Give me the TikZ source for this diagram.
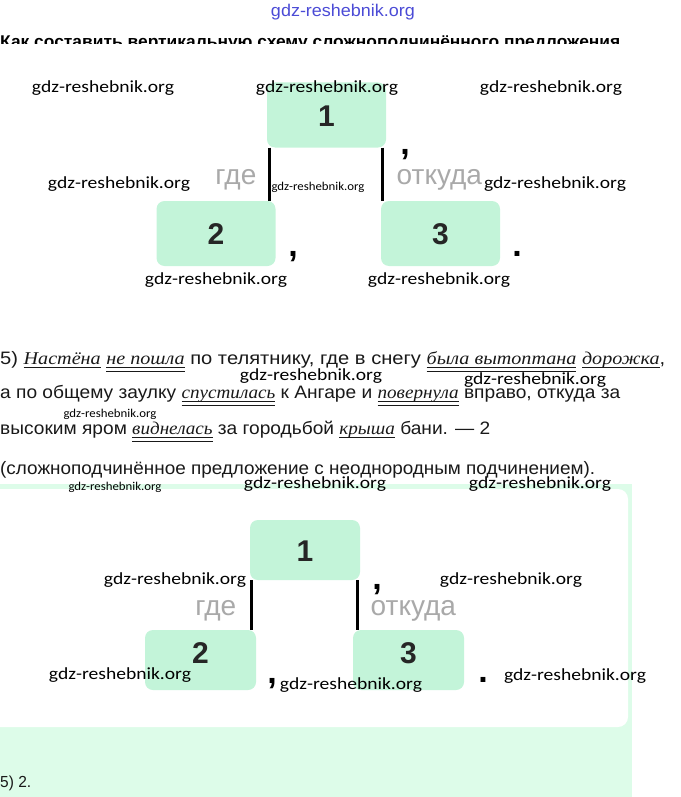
\documentclass[tikz,border=0pt]{standalone}
\usepackage{fontspec}
\usepackage{graphicx}
\setmainfont{Liberation Sans}
\newfontfamily\wmfont{Carlito}
\newfontfamily\serfont{Liberation Serif}
\definecolor{boxgreen}{HTML}{C3F4D9}
\definecolor{pagegreen}{HTML}{DDFCE9}
\definecolor{conjgray}{HTML}{A9A9A9}
\definecolor{wmblue}{HTML}{4B4BD6}
\newcommand\fitw[2]{\resizebox{#1}{\height}{#2}}
\newcommand\podl[1]{{\serfont\itshape\setbox0\hbox{#1}\rlap{\rule[-3.5pt]{\wd0}{0.7pt}}\box0}}
\newcommand\skaz[1]{{\serfont\itshape\setbox0\hbox{#1}\rlap{\rule[-3.5pt]{\wd0}{0.7pt}}\rlap{\rule[-7.5pt]{\wd0}{0.7pt}}\box0}}
\newcommand\gdz{gdz-reshebnik.org}
\begin{document}
\begin{tikzpicture}[x=1pt,y=-1pt]
	\tikzset{
		numbox/.style={fill=boxgreen,rounded corners=8pt,inner sep=0pt,minimum width=119pt,minimum height=65pt,
			text height=22pt,text depth=0pt,text=black!85,font=\fontsize{30}{30}\selectfont\bfseries},
		conj/.style={inner sep=0pt,yshift=-6pt,text=conjgray,font=\fontsize{28}{28}\selectfont},
		punct/.style={anchor=base,inner sep=0pt,font=\fontsize{34}{34}\selectfont\bfseries},
		link/.style={line width=3pt},
		para/.style={anchor=base west,inner sep=0pt,text=black!90,font=\fontsize{18}{20}\selectfont},
		wm/.style={inner sep=0pt,font=\wmfont}
	}
	\useasboundingbox(0,0)rectangle(680,797);
	\fill[pagegreen](0,484)rectangle(632,797);
	\fill[white,rounded corners=10pt](-12,489)rectangle(628,727);
	\begin{scope}
		\clip(0,0)rectangle(680,44);
		\node(title)[anchor=base west,inner sep=0pt,font=\fontsize{17}{17}\selectfont\bfseries]at(0,48)
			{\fitw{620pt}{Как составить вертикальную схему сложноподчинённого предложения}};
	\end{scope}
	\node(site)[inner sep=0pt,text=wmblue,font=\fontsize{17}{17}\selectfont]at(343,12){\fitw{144pt}{\gdz}};
	\node(a1)[numbox]at(326.5,115){1};
	\node(a2)[numbox]at(216,233.5){2};
	\node(a3)[numbox]at(440.5,233.5){3};
	\draw[link]([xshift=3pt]a1.south west)--([xshift=3pt]a1.south west|-a2.north)
		node[conj,midway,left,xshift=-12pt]{где};
	\draw[link]([xshift=-4pt]a1.south east)--([xshift=-4pt]a1.south east|-a3.north)
		node[conj,midway,right,xshift=13pt]{откуда};
	\node(c1)[punct]at(405,154){,};
	\node(c2)[punct]at(293,256){,};
	\node(c3)[punct]at(517,256){.};
	\node(p1)[para]at(0,364){\fitw{665pt}{5) \podl{Настёна} \skaz{не пошла} по телятнику, где в снегу \skaz{была вытоптана} \podl{дорожка},}};
	\node(p2)[para]at(0,398){\fitw{620pt}{а по общему заулку \skaz{спустилась} к Ангаре и \skaz{повернула} вправо, откуда за}};
	\node(p3)[para]at(0,434){\fitw{490pt}{высоким яром \skaz{виднелась} за городьбой \podl{крыша} бани. — 2}};
	\node(p4)[para]at(0,474){\fitw{595pt}{(сложноподчинённое предложение с неоднородным подчинением).}};
	\node(b1)[numbox,minimum width=110pt,minimum height=60pt]at(305,550){1};
	\node(b2)[numbox,minimum width=111pt,minimum height=60pt,text depth=16pt]at(200.5,660){2};
	\node(b3)[numbox,minimum width=111pt,minimum height=60pt,text depth=16pt]at(408.5,660){3};
	\draw[link]([xshift=2pt]b1.south west)--([xshift=2pt]b1.south west|-b2.north)
		node[conj,midway,left,xshift=-14pt]{где};
	\draw[link]([xshift=-3pt]b1.south east)--([xshift=-3pt]b1.south east|-b3.north)
		node[conj,midway,right,xshift=12pt]{откуда};
	\node(d1)[punct]at(377,589){,};
	\node(d2)[punct]at(272,683){,};
	\node(d3)[punct]at(483,682){.};
	\node(ans)[para,font=\fontsize{16}{16}\selectfont]at(0,787){\fitw{31pt}{5) 2.}};
	\foreach \x/\y/\w/\s [count=\i] in {103/88/142/17,327/88/142/17,551/88/142/17,
		119/184/142/17,318/187/93/12,555/184/142/17,216/280/142/17,439/280/142/17,
		311/376/142/17,535/380/142/17,110/414/93/12,115/487/93/12,315/484/142/17,540/484/142/17,
		175/580/142/17,511/580/142/17,120/675/142/17,351/685/142/17,575/676/142/17}
		\node(wm\i)[wm]at(\x,\y){\fitw{\w pt}{\fontsize{\s}{\s}\selectfont\gdz}};
\end{tikzpicture}
\end{document}
